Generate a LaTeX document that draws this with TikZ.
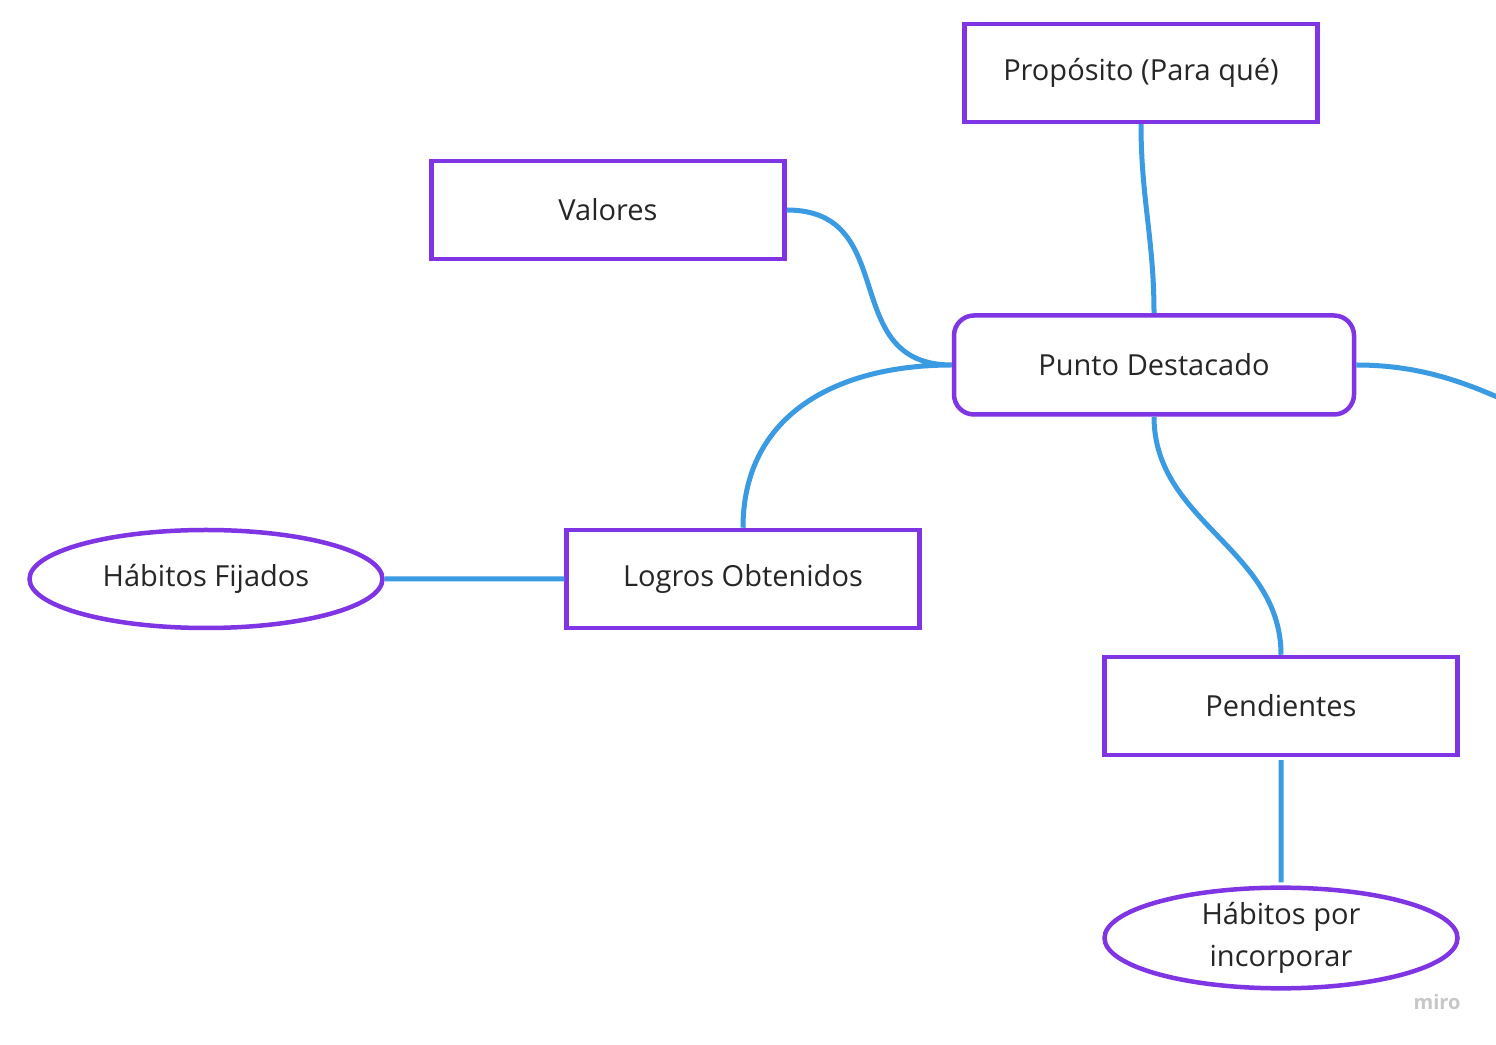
\documentclass[tikz,border=0pt]{standalone}
\usepackage{fontspec}
\setmainfont{Open Sans}
\usetikzlibrary{shapes.geometric}
\definecolor{miroviolet}{HTML}{7F35E3}
\definecolor{miroblue}{HTML}{3A9BE3}
\definecolor{mirotext}{HTML}{262626}

\begin{document}
\begin{tikzpicture}[x=1pt,y=1pt,
  box/.style={draw=miroviolet,line width=4.5pt,minimum width=353pt,minimum height=98pt,
    inner sep=0pt,text=mirotext,font=\fontsize{29}{42}\selectfont},
  hub/.style={box,rounded corners=20pt,minimum width=400pt,minimum height=99pt},
  oval/.style={box,ellipse},
  link/.style={draw=miroblue,line width=5pt,shorten >=3pt,shorten <=3pt}]

\clip (0,0) rectangle (1496,1044);
\fill[white] (0,0) rectangle (1496,1044);

\node[box] (P) at (1141,971) {Propósito (Para qué)};
\node[box] (V) at (608,834) {Valores};
\node[hub] (D) at (1154,679) {Punto Destacado};
\node[box] (L) at (743,465) {Logros Obtenidos};
\node[oval] (F) at (206,465) {Hábitos Fijados};
\node[box] (N) at (1281,338) {Pendientes};
\node[oval,align=center] (H) at (1281,106) {Hábitos por\\incorporar};
\coordinate (R) at (1650,585);

\path[link]
  (P.south) to[out=-90,in=90] (D.north)
  (V.east) to[out=0,in=180,looseness=1.3] (D.west)
  (D.west) to[out=180,in=90,looseness=1.1] (L.north)
  (D.south) to[out=-90,in=90] (N.north)
  (D.east) to[out=0,in=165] (R)
  (L.west) -- (F.east)
  (N.south) -- (H.north);

\node[text=black!22,font=\fontsize{20}{24}\selectfont\bfseries] (W) at (1437,42) {miro};

\end{tikzpicture}
\end{document}
